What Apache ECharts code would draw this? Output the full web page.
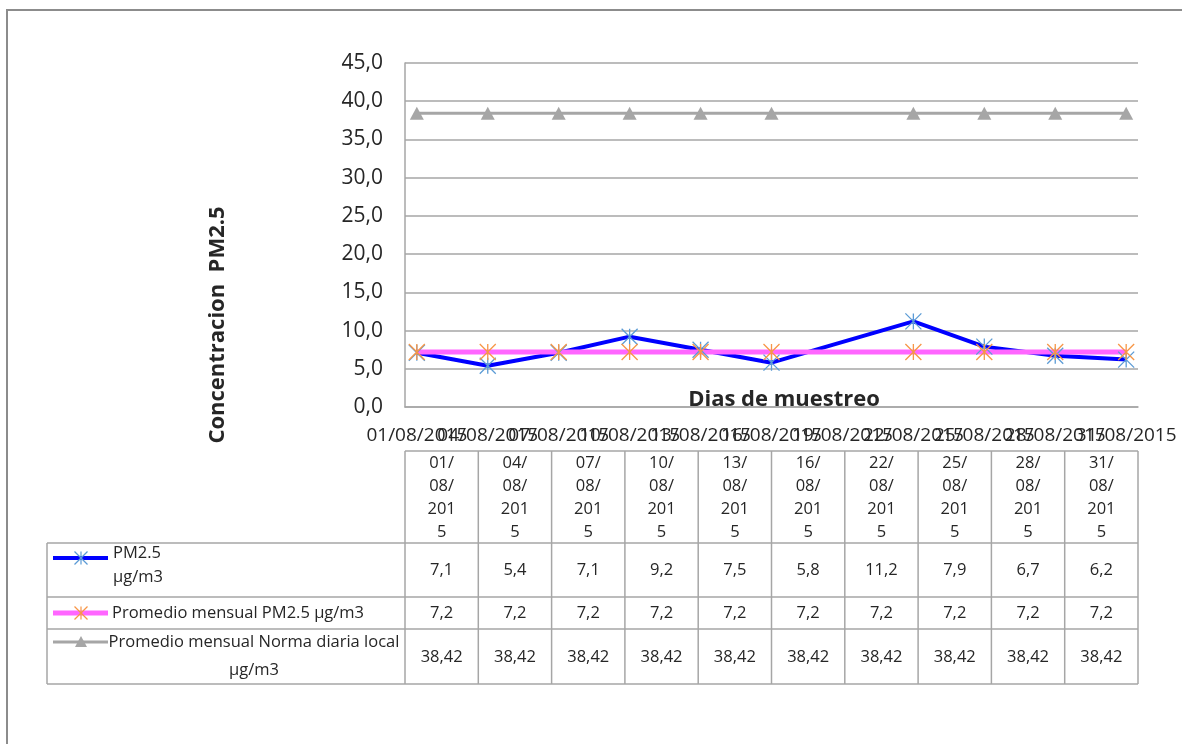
<!DOCTYPE html>
<html lang="es" style="height: 100%">

<head>
  <meta charset="utf-8">
</head>

<body style="height: 100%; margin: 0">
  <div id="container" style="width: 1182px; height: 744px"></div>

  <script type="text/javascript" src="https://cdn.jsdelivr.net/npm/echarts@6/dist/echarts.min.js"></script>

  <script type="text/javascript">
    // data
    var fechas = ['01/08/2015', '04/08/2015', '07/08/2015', '10/08/2015', '13/08/2015',
      '16/08/2015', '22/08/2015', '25/08/2015', '28/08/2015', '31/08/2015'];
    var pm25 = [7.1, 5.4, 7.1, 9.2, 7.5, 5.8, 11.2, 7.9, 6.7, 6.2];
    var promedio = [7.2, 7.2, 7.2, 7.2, 7.2, 7.2, 7.2, 7.2, 7.2, 7.2];
    var norma = [38.42, 38.42, 38.42, 38.42, 38.42, 38.42, 38.42, 38.42, 38.42, 38.42];
    var xTickLabels = ['01/08/2015', '04/08/2015', '07/08/2015', '10/08/2015', '13/08/2015', '16/08/2015',
      '19/08/2015', '22/08/2015', '25/08/2015', '28/08/2015', '31/08/2015'];

    var seriesNames = ['PM2.5 µg/m3', 'Promedio mensual PM2.5 µg/m3', 'Promedio mensual Norma diaria local µg/m3'];
    var lineColors = ['#0000ff', '#ff66ff', '#a6a6a6'];
    var markerColors = ['#5b9bd5', '#f79646', '#a6a6a6'];

    var FONT = '"Open Sans", "Liberation Sans", sans-serif';
    var TXT = '#262626';
    var GRIDC = '#a6a6a6';

    // layout
    var PLOT_L = 405, PLOT_R = 1138, PLOT_T = 63, PLOT_B = 407;
    var TBL_L = 47;
    var rowY = [451, 543, 597, 629, 684];

    function day(s) { return parseInt(s.slice(0, 2), 10); }
    function coma(v) { return String(v).replace('.', ','); }

    var tickDays = xTickLabels.map(day);
    var labelByDay = {};
    xTickLabels.forEach(function (s) { labelByDay[day(s)] = s; });
    // the labels overlap each other, as in the original; split them over two
    // axes so echarts does not drop any of them
    var daysA = tickDays.filter(function (d, i) { return i % 2 === 0; });
    var daysB = tickDays.filter(function (d, i) { return i % 2 === 1; });

    var asterisk = 'path://M5,0L5,10M0,0L10,10M10,0L0,10';

    // ---- data table (graphic) ----
    var graphic = [];
    var colW = (PLOT_R - PLOT_L) / fechas.length;
    function hline(y, x1, x2) {
      graphic.push({ type: 'line', shape: { x1: x1, y1: y, x2: x2, y2: y }, style: { stroke: GRIDC, lineWidth: 1.5 }, silent: true });
    }
    function vline(x, y1, y2) {
      graphic.push({ type: 'line', shape: { x1: x, y1: y1, x2: x, y2: y2 }, style: { stroke: GRIDC, lineWidth: 1.5 }, silent: true });
    }
    function text(t, x, y, align, opts) {
      opts = opts || {};
      graphic.push({
        type: 'text', x: x, y: y, silent: true, rotation: opts.rotation || 0,
        style: {
          text: t, fill: TXT, align: align, verticalAlign: opts.va || 'middle',
          fontSize: opts.size || 16.5, fontFamily: FONT, fontWeight: opts.weight || 'normal',
          lineHeight: opts.lh || 20
        }
      });
    }

    // outer frame
    graphic.push({ type: 'polyline', shape: { points: [[7, 744], [7, 10], [1182, 10]] }, style: { stroke: '#8c8c8c', lineWidth: 2, fill: null }, silent: true });

    hline(rowY[0], PLOT_L, PLOT_R);
    for (var r = 1; r < rowY.length; r++) hline(rowY[r], TBL_L, PLOT_R);
    vline(TBL_L, rowY[1], rowY[4]);
    for (var c = 0; c <= fechas.length; c++) vline(PLOT_L + c * colW, rowY[0], rowY[4]);

    var rows = [pm25, promedio, norma];
    var rowMid = [570, 613, 657];
    fechas.forEach(function (f, i) {
      var cx = PLOT_L + (i + 0.5) * colW;
      text(f.match(/.{1,3}/g).join('\n'), cx, rowY[0] + 1, 'center', { va: 'top', lh: 23 });
      rows.forEach(function (arr, k) {
        text(coma(arr[i]), cx, rowMid[k], 'center');
      });
    });

    // legend keys inside table
    var keyY = [558, 613, 642];
    var keyX1 = 53, keyX2 = 108, keyMid = 81;
    keyY.forEach(function (y, k) {
      graphic.push({ type: 'line', shape: { x1: keyX1, y1: y, x2: keyX2, y2: y }, style: { stroke: lineColors[k], lineWidth: k === 1 ? 5 : (k === 0 ? 4 : 3) }, silent: true });
      if (k < 2) {
        var s = 6.5, m = markerColors[k];
        [[0, -s, 0, s], [-s, -s, s, s], [s, -s, -s, s]].forEach(function (p) {
          graphic.push({ type: 'line', shape: { x1: keyMid + p[0], y1: y + p[1], x2: keyMid + p[2], y2: y + p[3] }, style: { stroke: m, lineWidth: 1.2 }, silent: true });
        });
      } else {
        graphic.push({ type: 'polygon', shape: { points: [[keyMid - 6, y + 5], [keyMid + 6, y + 5], [keyMid, y - 6]] }, style: { fill: markerColors[2] }, silent: true });
      }
    });
    text('PM2.5\nµg/m3', 113, 541, 'left', { va: 'top', lh: 24 });
    text('Promedio mensual PM2.5 µg/m3', 112, 613, 'left');
    text('Promedio mensual Norma diaria local\nµg/m3', 254, 628, 'center', { va: 'top', lh: 28 });

    // axis titles
    text('Concentracion  PM2.5', 218, 325, 'center', { size: 22, weight: 'bold', rotation: Math.PI / 2 });
    text('Dias de muestreo', 784, 400, 'center', { size: 22, weight: 'bold' });

    function pts(arr) {
      return fechas.map(function (f, i) { return [day(f), arr[i]]; });
    }

    function dateAxis(days, showLine) {
      return {
        type: 'value',
        position: 'bottom',
        min: 0.5,
        max: 31.5,
        axisLine: { show: showLine, lineStyle: { color: GRIDC, width: 1.5 } },
        axisTick: { show: false },
        splitLine: { show: false },
        axisLabel: {
          customValues: days,
          formatter: function (v) { return labelByDay[v] || ''; },
          hideOverlap: false,
          showMinLabel: true,
          showMaxLabel: true,
          fontSize: 19, fontFamily: FONT, color: TXT, margin: 19
        }
      };
    }

    var dom = document.getElementById('container');
    var myChart = echarts.init(dom, null, { renderer: 'canvas' });

    var option = {
      animation: false,
      backgroundColor: '#ffffff',
      grid: { left: PLOT_L, right: 1182 - PLOT_R, top: PLOT_T, bottom: 744 - PLOT_B, containLabel: false },
      xAxis: [dateAxis(daysA, true), dateAxis(daysB, false)],
      yAxis: {
        type: 'value',
        min: 0,
        max: 45,
        interval: 5,
        axisLine: { show: true, lineStyle: { color: GRIDC, width: 1.5 } },
        axisTick: { show: false },
        splitLine: { lineStyle: { color: GRIDC, width: 1.5 } },
        axisLabel: {
          formatter: function (v) { return v.toFixed(1).replace('.', ','); },
          fontSize: 21, fontFamily: FONT, color: TXT, margin: 22
        }
      },
      series: [
        {
          name: seriesNames[0],
          type: 'line',
          data: pts(pm25),
          symbol: asterisk,
          symbolSize: 16,
          lineStyle: { color: lineColors[0], width: 4 },
          itemStyle: { color: 'none', borderColor: markerColors[0], borderWidth: 1.3 }
        },
        {
          name: seriesNames[1],
          type: 'line',
          data: pts(promedio),
          symbol: asterisk,
          symbolSize: 16,
          lineStyle: { color: lineColors[1], width: 5 },
          itemStyle: { color: 'none', borderColor: markerColors[1], borderWidth: 1.3 }
        },
        {
          name: seriesNames[2],
          type: 'line',
          data: pts(norma),
          symbol: 'triangle',
          symbolSize: [14, 13],
          lineStyle: { color: lineColors[2], width: 3 },
          itemStyle: { color: markerColors[2] }
        }
      ],
      graphic: graphic
    };

    myChart.setOption(option);
    window.addEventListener('resize', myChart.resize);
  </script>
</body>

</html>
